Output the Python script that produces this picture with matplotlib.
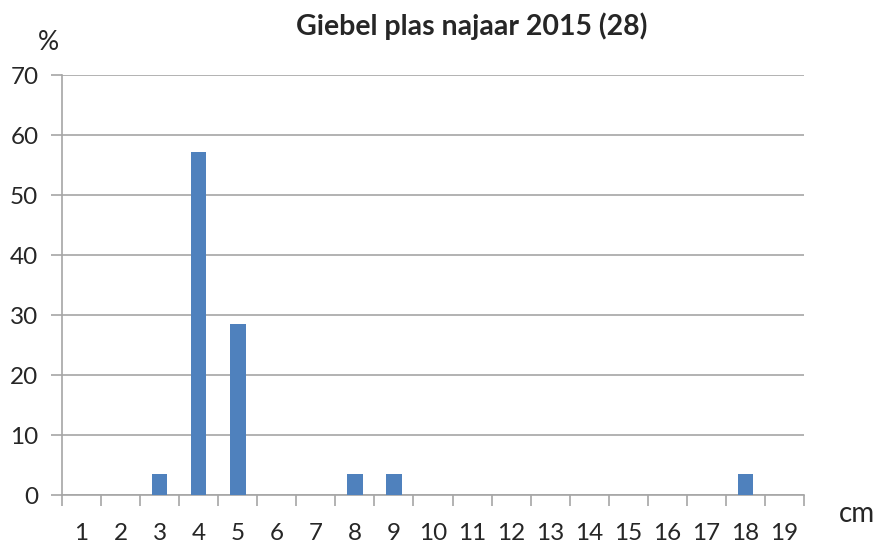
import numpy as np
import matplotlib
from matplotlib import pyplot as plt
from matplotlib.ticker import FixedLocator

matplotlib.rc('font', family=['Lato', 'DejaVu Sans'], size=17.5)

# data
lengths = list(range(1, 20))
percent = [0, 0, 3.57, 57.14, 28.57, 0, 0, 3.57, 3.57, 0,
           0, 0, 0, 0, 0, 0, 0, 3.57, 0]
y_ticks = [0, 10, 20, 30, 40, 50, 60, 70]
title = "Giebel plas najaar 2015 (28)"

grid_col = '#a6a6a6'
text_col = '#262626'

fig = plt.figure(figsize=(8.86, 5.47), dpi=100)
ax = fig.add_axes([62/886, 52/547, 742/886, 420/547])

ax.bar(lengths, percent, width=0.4, color='#4f81bd', zorder=3)

ax.set_xlim(0.5, 19.5)
ax.set_ylim(0, 70)
ax.set_yticks(y_ticks)
ax.set_xticks(lengths)
ax.xaxis.set_minor_locator(FixedLocator(np.arange(0.5, 20, 1.0)))

ax.grid(axis='y', color=grid_col, linewidth=1.2, zorder=0)
for s in ['top', 'right']:
    ax.spines[s].set_visible(False)
for s in ['left', 'bottom']:
    ax.spines[s].set_color(grid_col)
    ax.spines[s].set_linewidth(1.2)

ax.tick_params(axis='y', length=8, width=1.2, color=grid_col, labelcolor=text_col, pad=9)
ax.tick_params(axis='x', which='major', length=0, labelcolor=text_col, pad=20)
ax.tick_params(axis='x', which='minor', length=8, width=1.2, color=grid_col)

fig.text(472/886, 1 - 26/547, title, ha='center', va='center',
         fontsize=20.5, fontweight='bold', color=text_col)
fig.text(48/886, 1 - 43/547, '%', ha='center', va='center', fontsize=19, color=text_col)
fig.text(857/886, 1 - 514/547, 'cm', ha='center', va='center', fontsize=20, color=text_col)

fig.savefig('out.png', dpi=100)
